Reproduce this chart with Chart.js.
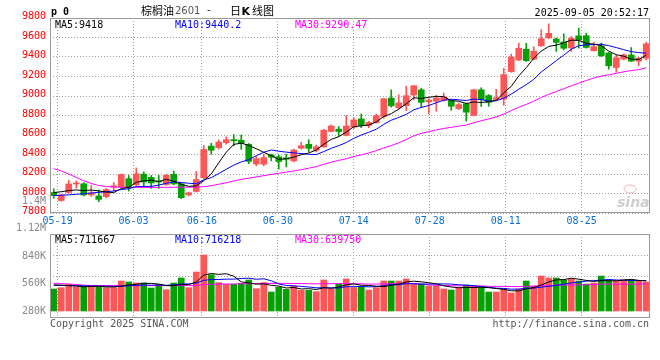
<!DOCTYPE html>
<html><head><meta charset="utf-8">
<script src="https://cdn.jsdelivr.net/npm/chart.js@4.4.1/dist/chart.umd.min.js"></script>
<style>
html,body{margin:0;padding:0;background:#fff;}
#wrap{position:relative;width:660px;height:360px;background:#fff;}
canvas{position:absolute;left:0;top:0;}
</style></head><body>
<div id="wrap"><canvas id="kc" width="660" height="360"></canvas><canvas id="vc" width="660" height="360"></canvas></div>
<script>
// ---- data ----
const dates = ['05-16','05-19','05-20','05-21','05-22','05-23','05-26','05-27','05-28','05-29','05-30',
'06-03','06-04','06-05','06-06','06-09','06-10','06-11','06-12','06-13',
'06-16','06-17','06-18','06-19','06-20','06-23','06-24','06-25','06-26','06-27','06-30',
'07-01','07-02','07-03','07-04','07-07','07-08','07-09','07-10','07-11',
'07-14','07-15','07-16','07-17','07-18','07-21','07-22','07-23','07-24','07-25',
'07-28','07-29','07-30','07-31','08-01','08-04','08-05','08-06','08-07','08-08',
'08-11','08-12','08-13','08-14','08-15','08-18','08-19','08-20','08-21','08-22',
'08-25','08-26','08-27','08-28','08-29','09-01','09-02','09-03','09-04','09-05'];
const opens = [8010,7928,8010,8098,8100,7985,7975,7968,8068,8070,
8152,8088,8198,8165,8128,8092,8196,8098,7986,8021,
8161,8486,8470,8521,8550,8546,8504,8303,8300,8396,
8376,8366,8334,8465,8504,8444,8479,8637,8660,8596,
8680,8765,8697,8727,8790,8979,8880,8901,9010,9064,
8941,8946,8956,8956,8871,8919,8800,9064,9004,8965,
8970,9250,9370,9480,9378,9515,9596,9585,9554,9493,
9617,9618,9464,9515,9442,9292,9378,9421,9358,9387];
const highs = [8048,7992,8135,8130,8110,8082,8035,8052,8112,8200,
8185,8262,8222,8185,8185,8196,8230,8112,8015,8225,
8494,8516,8550,8581,8605,8600,8513,8380,8405,8403,
8395,8403,8456,8525,8552,8496,8658,8704,8687,8800,
8778,8816,8740,8815,8974,9063,9013,9100,9107,9080,
8972,9007,9030,8963,8929,8929,9070,9085,9014,9068,
9285,9430,9542,9540,9505,9680,9740,9595,9638,9610,
9696,9644,9552,9542,9446,9422,9432,9497,9395,9552];
const lows = [7952,7920,8002,8055,7975,7972,7915,7955,8025,8062,
8025,8080,8072,8052,8052,8082,8090,7948,7975,8015,
8150,8403,8455,8506,8489,8453,8305,8284,8284,8335,
8250,8273,8325,8455,8430,8427,8472,8633,8585,8591,
8667,8676,8674,8720,8770,8887,8867,8850,8960,8885,
8817,8844,8946,8854,8861,8742,8797,8893,8895,8955,
8905,9244,9362,9354,9370,9508,9586,9458,9473,9456,
9491,9491,9461,9405,9275,9244,9371,9354,9313,9371];
const closes = [7978,7985,8098,8104,7985,8005,7940,8040,8075,8195,
8062,8202,8118,8108,8118,8186,8098,7957,8008,8143,
8452,8444,8528,8552,8542,8516,8330,8357,8368,8372,
8328,8352,8446,8490,8463,8479,8649,8692,8636,8692,
8755,8697,8729,8798,8972,8899,8930,9003,9105,8935,
8958,8980,8990,8895,8912,8834,9064,8962,8935,8982,
9220,9400,9490,9363,9460,9588,9643,9550,9490,9592,
9575,9498,9506,9412,9310,9392,9421,9357,9390,9535];
const volumes = [520000,552000,630000,567000,591000,567000,575000,552000,552000,709000,
686000,662000,662000,544000,630000,504000,662000,780000,552000,922000,
1324000,859000,670000,630000,630000,654000,733000,528000,670000,449000,
560000,512000,591000,489000,489000,457000,733000,520000,638000,757000,
552000,575000,496000,552000,709000,709000,709000,757000,638000,638000,
591000,591000,520000,496000,552000,615000,591000,552000,449000,449000,
520000,426000,520000,709000,591000,827000,780000,780000,733000,757000,
709000,638000,662000,827000,733000,709000,733000,733000,709000,686000];
// moving-average values before enough history exists
const ma5Head = [8010,8018,8030,8036];
const ma10Head = [7978,7982,7986,7992,7998,8005,8012,8018,8026];
const ma30Head = [8255,8231,8200,8165,8130,8103,8082,8071,8066,8064,
8063,8063,8063,8063,8063,8063,8064,8064,8065,8066,
8070,8080,8095,8110,8128,8145,8158,8170,8183];
const vma5Head = [615000,610000,600000,590000];
const vma10Head = [608000,605000,602000,598000,595000,592000,590000,587000,584000];
const vma30Head = [648000,646000,640000,625000,610000,602000,600000,600000,600000,600000,
600000,600000,600000,600000,600000,600000,600000,600000,600000,600000,
625000,633000,636000,638000,640000,642000,646000,646000,648000];
const priceTicks = [7800,8000,8200,8400,8600,8800,9000,9200,9400,9600,9800];
const tickDates = ['05-19','06-03','06-16','06-30','07-14','07-28','08-11','08-25'];
const volTickValues = [280000,560000,840000,1120000,1400000];
const volTickLabels = ['280K','560K','840K','1.12M','1.4M'];
const priceLegend = ['MA5:9418','MA10:9440.2','MA30:9290.47'];
const volLegend = ['MA5:711667','MA10:716218','MA30:639750'];
const symbolText = 'p 0';
const titleName = '棕榈油', titleCode = '2601', titleKind = ['日','K','线图'];
const stampText = '2025-09-05 20:52:17';
const copyText = 'Copyright 2025 SINA.COM', urlText = 'http://finance.sina.com.cn';

// ---- helpers ----
const RED = '#fd5656', GREEN = '#04a004';
const MONO = '"DejaVu Sans Mono", "Liberation Mono", monospace';
const CJK = '"Noto Sans CJK SC", sans-serif';
const GRIDC = '#a0a0a0', FRAMEC = '#999999';
const colors = closes.map((c,k)=> c >= opens[k] ? RED : GREEN);
function movingAvg(vals, n, head){
  return vals.map((v,k)=> k < n-1 ? head[k] : vals.slice(k-n+1,k+1).reduce((a,b)=>a+b,0)/n);
}
const pts = arr => arr.map((v,k)=>({x:k, y:v}));
const ma5 = movingAvg(closes,5,ma5Head), ma10 = movingAvg(closes,10,ma10Head), ma30 = movingAvg(closes,30,ma30Head);
const vma5 = movingAvg(volumes,5,vma5Head), vma10 = movingAvg(volumes,10,vma10Head), vma30 = movingAvg(volumes,30,vma30Head);
const lineDs = (data,color)=>({type:'line', data:pts(data), borderColor:color, borderWidth:1, pointRadius:0, tension:0, order:0, xAxisID:'x', yAxisID:'y'});
const dateTicks = s => { s.ticks = tickDates.map(d=>({value:dates.indexOf(d)})); };
const gridOpts = {color:GRIDC, lineWidth:1, drawTicks:false, offset:false};
const dashBorder = {display:false, dash:[1,2]};
const legendColors = ['#000000','#0000ff','#ff00ff'];
const legendX = [55,175,295];

// ---- price chart ----
const pricePlugin = {id:'priceDeco', afterDraw(c){
  const g = c.ctx, a = c.chartArea;
  g.save();
  g.strokeStyle = FRAMEC; g.lineWidth = 1;
  g.strokeRect(a.left+0.5, a.top+0.5, a.right-a.left-1, a.bottom-a.top-1);
  g.textBaseline = 'alphabetic'; g.textAlign = 'left';
  g.font = '10px '+MONO;
  priceLegend.forEach((t,i)=>{ g.fillStyle = legendColors[i]; g.fillText(t, legendX[i], a.top+9.5); });
  g.fillStyle = '#000'; g.font = 'bold 10px '+MONO; g.fillText(symbolText, 51, 14.5);
  g.font = '11px '+CJK; g.fillText(titleName, 141, 14.5);
  g.fillStyle = '#555'; g.font = '10px "DejaVu Sans", sans-serif'; g.fillText(titleCode, 175, 14);
  g.fillStyle = '#000'; g.font = '11px '+CJK; g.fillText('-', 207, 13.5);
  g.fillText(titleKind[0], 230, 14.5);
  g.font = 'bold 11px "DejaVu Sans", sans-serif'; g.fillText(titleKind[1], 241.5, 14.5);
  g.font = '11px '+CJK; g.fillText(titleKind[2], 252, 14.5);
  g.font = '10px '+MONO; g.textAlign = 'right'; g.fillText(stampText, 649, 15.5);
  // faint sina watermark
  g.textAlign = 'left'; g.fillStyle = 'rgba(190,190,190,0.75)';
  g.font = 'italic bold 14px "DejaVu Sans", sans-serif'; g.fillText('sina', 617, a.bottom-6);
  g.strokeStyle = 'rgba(240,150,150,0.7)'; g.beginPath(); g.ellipse(630, a.bottom-24, 6, 4, 0, 0, Math.PI*2); g.stroke();
  g.restore();
}};

new Chart(document.getElementById('kc'), {
  type:'bar',
  data:{datasets:[
    lineDs(ma5,'#000000'), lineDs(ma10,'#0000ff'), lineDs(ma30,'#ff00ff'),
    {label:'body', data:dates.map((d,k)=>({x:k, y:[opens[k], closes[k]]})), backgroundColor:colors, borderWidth:0, barThickness:6, minBarLength:1, grouped:false, order:1, xAxisID:'x', yAxisID:'y'},
    {label:'wick', data:dates.map((d,k)=>({x:k, y:[lows[k], highs[k]]})), backgroundColor:colors, borderWidth:0, barThickness:1, minBarLength:1, grouped:false, order:2, xAxisID:'x', yAxisID:'y'}
  ]},
  options:{
    responsive:false, animation:false, events:[], devicePixelRatio:1,
    layout:{padding:{left:0, right:10, top:18, bottom:127}},
    plugins:{legend:{display:false}, tooltip:{enabled:false}},
    scales:{
      x:{type:'linear', offset:false, min:-0.5, max:dates.length-0.5, display:false, grid:{offset:false}},
      xd:{type:'linear', offset:false, position:'bottom', min:0, max:dates.length-1, afterBuildTicks:dateTicks,
          afterFit:s=>{s.height=20}, grid:gridOpts, border:dashBorder,
          ticks:{color:'#0a6fd0', font:{family:MONO, size:10}, padding:2, maxRotation:0, autoSkip:false, callback:v=>dates[v]}},
      y:{type:'linear', position:'left', min:priceTicks[0], max:priceTicks[priceTicks.length-1],
         afterBuildTicks:s=>{s.ticks = priceTicks.map(v=>({value:v}));}, afterFit:s=>{s.width=50},
         grid:gridOpts, border:dashBorder,
         ticks:{color:'#ff0000', font:{family:MONO, size:10}, padding:4, labelOffset:-1.5, callback:v=>String(v)}}
    }
  },
  plugins:[pricePlugin]
});

// ---- volume chart ----
const volPlugin = {id:'volDeco', afterDraw(c){
  const g = c.ctx, a = c.chartArea, yl = c.scales.yl;
  g.save();
  g.strokeStyle = FRAMEC; g.lineWidth = 1;
  g.strokeRect(a.left+0.5, a.top+0.5, a.right-a.left-1, a.bottom-a.top-1);
  g.font = '10px '+MONO; g.textBaseline = 'alphabetic'; g.textAlign = 'left';
  volLegend.forEach((t,i)=>{ g.fillStyle = legendColors[i]; g.fillText(t, legendX[i], a.top+8.5); });
  g.fillStyle = '#888'; g.textAlign = 'right'; g.textBaseline = 'middle';
  volTickValues.forEach((v,i)=> g.fillText(volTickLabels[i], 46, yl.getPixelForValue(v)));
  g.fillStyle = '#555'; g.textBaseline = 'alphabetic';
  g.textAlign = 'left'; g.fillText(copyText, 50, 327);
  g.textAlign = 'right'; g.fillText(urlText, 649, 327);
  g.restore();
}};

new Chart(document.getElementById('vc'), {
  type:'bar',
  data:{datasets:[
    lineDs(vma5,'#000000'), lineDs(vma10,'#0000ff'), lineDs(vma30,'#ff00ff'),
    {label:'vol', data:pts(volumes), backgroundColor:colors, borderWidth:0, barThickness:6, grouped:false, order:1, xAxisID:'x', yAxisID:'y'}
  ]},
  options:{
    responsive:false, animation:false, events:[], devicePixelRatio:1,
    layout:{padding:{left:50, right:10, top:234, bottom:42}},
    plugins:{legend:{display:false}, tooltip:{enabled:false}},
    scales:{
      x:{type:'linear', offset:false, min:-0.5, max:dates.length-0.5, display:false, grid:{offset:false}},
      xd:{type:'linear', offset:false, position:'bottom', min:0, max:dates.length-1, afterBuildTicks:dateTicks,
          afterFit:s=>{s.height=0}, grid:gridOpts, border:dashBorder, ticks:{display:false}},
      y:{type:'linear', min:-165500, max:1820300, display:false},
      yq:{type:'linear', position:'right', min:0, max:4, afterBuildTicks:s=>{s.ticks=[1,2,3].map(v=>({value:v}));},
          afterFit:s=>{s.width=0}, grid:gridOpts, border:dashBorder, ticks:{display:false}},
      yl:{type:'linear', position:'left', min:208700, max:1064000, display:false}
    }
  },
  plugins:[volPlugin]
});
</script>
</body></html>
